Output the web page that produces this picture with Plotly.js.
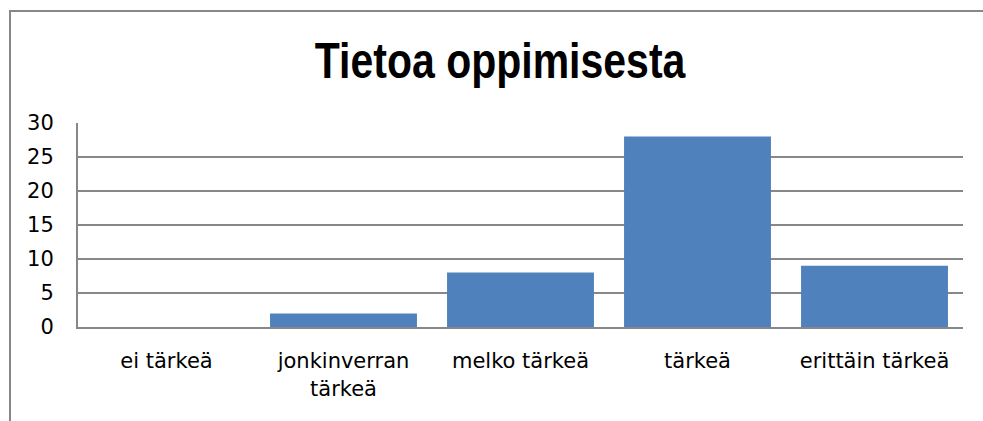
<!DOCTYPE html>
<html>
<head>
<meta charset="utf-8">
<script src="https://cdn.plot.ly/plotly-3.0.1.min.js"></script>
<style>
html,body{margin:0;padding:0;background:#fff;}
#wrap{position:relative;width:983px;height:421px;overflow:hidden;}
#chart{position:absolute;left:0;top:0;width:983px;height:421px;}
#frame{position:absolute;left:9px;top:10px;width:1000px;height:500px;border-left:2px solid #878787;border-top:2px solid #878787;pointer-events:none;}
</style>
</head>
<body>
<div id="wrap"><div id="chart"></div><div id="frame"></div></div>
<script>
const categories = ["ei tärkeä", "jonkinverran<br>tärkeä", "melko tärkeä", "tärkeä", "erittäin tärkeä"];
const values = [0, 2, 8, 28, 9];
const yTicks = [0, 5, 10, 15, 20, 25, 30];
const chartTitle = "Tietoa oppimisesta";

const tickFont = {family: "DejaVu Sans, Liberation Sans, sans-serif", size: 21, color: "#000"};

Plotly.newPlot("chart", [{
  type: "bar",
  x: categories,
  y: values,
  marker: {color: "#4F81BD", line: {width: 0}},
  hoverinfo: "none"
}], {
  width: 983, height: 421,
  margin: {l: 78, r: 20, t: 123, b: 94, pad: 0},
  paper_bgcolor: "#fff", plot_bgcolor: "#fff",
  bargap: 0.17,
  showlegend: false,
  title: {
    text: chartTitle,
    font: {family: "Liberation Sans, Arial, sans-serif", size: 50, color: "#000", weight: "bold"},
    x: 0.5087, xanchor: "center", xref: "container",
    y: 0.857, yanchor: "middle", yref: "container"
  },
  xaxis: {
    type: "category",
    showgrid: false,
    showline: true, linecolor: "#878787", linewidth: 2,
    ticks: "", tickfont: tickFont,
    ticklabelstandoff: 14,
    zeroline: false, fixedrange: true
  },
  yaxis: {
    range: [0, 30],
    tickvals: yTicks,
    ticktext: yTicks.map(String),
    showgrid: true, gridcolor: "#878787", gridwidth: 2,
    showline: true, linecolor: "#878787", linewidth: 2,
    ticks: "", tickfont: tickFont,
    ticklabelstandoff: 18,
    zeroline: false, fixedrange: true
  }
}, {staticPlot: true, displayModeBar: false}).then(function (gd) {
  // condense the title horizontally around its centre (narrow bold face is not installed)
  const t = gd.querySelector(".gtitle");
  if (t) {
    const cx = parseFloat(t.getAttribute("x")) || 500;
    t.setAttribute("transform", "translate(" + cx + ",0) scale(0.82,1) translate(" + (-cx) + ",0)");
  }
});
</script>
</body>
</html>
